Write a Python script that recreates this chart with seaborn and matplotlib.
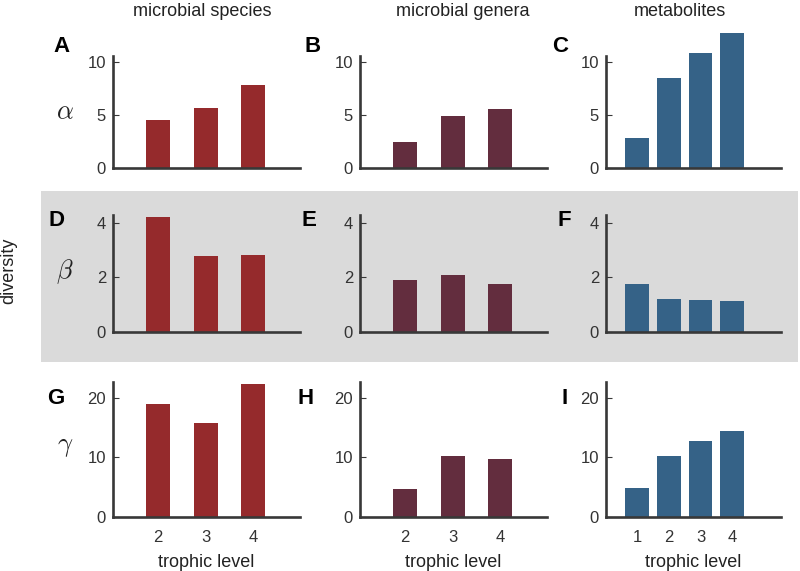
import matplotlib
matplotlib.use("Agg")
import matplotlib.pyplot as plt
from matplotlib.patches import Rectangle
import seaborn as sns

# values
levels_microbial = ["2", "3", "4"]
levels_metab = ["1", "2", "3", "4"]

alpha_species = [4.5, 5.7, 7.85]
alpha_genera = [2.5, 4.95, 5.55]
alpha_metab = [2.8, 8.5, 10.85, 12.7]

beta_species = [4.2, 2.77, 2.83]
beta_genera = [1.9, 2.07, 1.76]
beta_metab = [1.74, 1.21, 1.17, 1.13]

gamma_species = [18.9, 15.7, 22.3]
gamma_genera = [4.7, 10.25, 9.75]
gamma_metab = [4.87, 10.25, 12.77, 14.4]

col_titles = ["microbial species", "microbial genera", "metabolites"]
row_symbols = [r"$\alpha$", r"$\beta$", r"$\gamma$"]
panel_letters = ["A", "B", "C", "D", "E", "F", "G", "H", "I"]
row_ticks = [[0, 5, 10], [0, 2, 4], [0, 10, 20]]
row_ylim = [10.57, 4.28, 22.7]

colors = ["#952a2c", "#632d3e", "#356287"]

sns.set_style("ticks")
plt.rcParams["font.family"] = ["Liberation Sans", "DejaVu Sans"]
plt.rcParams["mathtext.fontset"] = "cm"

W, H = 800, 571
fig = plt.figure(figsize=(8, 5.71), dpi=100)

# grey band behind the beta row
band = Rectangle((41 / W, 1 - 362 / H), (798 - 41) / W, (362 - 191) / H,
                 transform=fig.transFigure, facecolor="#dadada",
                 edgecolor="none", zorder=-10)
fig.add_artist(band)

data = [[alpha_species, alpha_genera, alpha_metab],
        [beta_species, beta_genera, beta_metab],
        [gamma_species, gamma_genera, gamma_metab]]

# pixel geometry of each axes (left, right) and (top, bottom)
cols_px = [(113, 300), (360, 547), (606, 781)]
rows_px = [(56, 168), (215, 331.7), (381.7, 517)]
letter_x = [[61, 313, 560], [56, 309, 564], [56, 306, 565]]
letter_y = [47, 220, 399]
symbol_y = [112, 272, 447]

for r in range(3):
    for c in range(3):
        x0, x1 = cols_px[c]
        y0, y1 = rows_px[r]
        ax = fig.add_axes([x0 / W, 1 - y1 / H, (x1 - x0) / W, (y1 - y0) / H])
        ax.set_facecolor("none")
        if c == 2:
            levels = levels_metab
            width = 0.75
            xlim = (-0.98, 4.54)
        else:
            levels = levels_microbial
            width = 0.5
            xlim = (-0.95, 2.98)
        sns.barplot(x=levels, y=data[r][c], color=colors[c], saturation=1,
                    width=width, linewidth=0, ax=ax)
        for p in ax.patches:
            p.set_clip_on(False)
        ax.set_xlim(*xlim)
        ax.set_ylim(0, row_ylim[r])
        ax.set_yticks(row_ticks[r])
        sns.despine(ax=ax)
        for s in ["left", "bottom"]:
            ax.spines[s].set_linewidth(1.9)
            ax.spines[s].set_color("#383838")
        ax.tick_params(axis="y", direction="in", length=4, width=0.8,
                       color="#383838", labelsize=12, labelcolor="#333333", pad=5)
        ax.tick_params(axis="x", length=0, labelsize=12, labelcolor="#333333", pad=9)
        ax.set_ylabel("")
        if r == 2:
            ax.set_xlabel("trophic level", fontsize=13, color="#222222", labelpad=7)
        else:
            ax.set_xlabel("")
            ax.set_xticklabels([])

        fig.text(letter_x[r][c] / W, 1 - letter_y[r] / H, panel_letters[r * 3 + c],
                 fontsize=16, fontweight="bold", ha="center", va="center",
                 color="black")

    fig.text(65 / W, 1 - symbol_y[r] / H, row_symbols[r], fontsize=19,
             ha="center", va="center", color="#222222")

title_x = [202, 463, 680]
for c in range(3):
    fig.text(title_x[c] / W, 1 - 12 / H, col_titles[c], fontsize=13,
             ha="center", va="center", color="#222222")

fig.text(9 / W, 1 - 271 / H, "diversity", fontsize=13, rotation=90,
         ha="center", va="center", color="#222222")

fig.savefig("out.png", dpi=100)
